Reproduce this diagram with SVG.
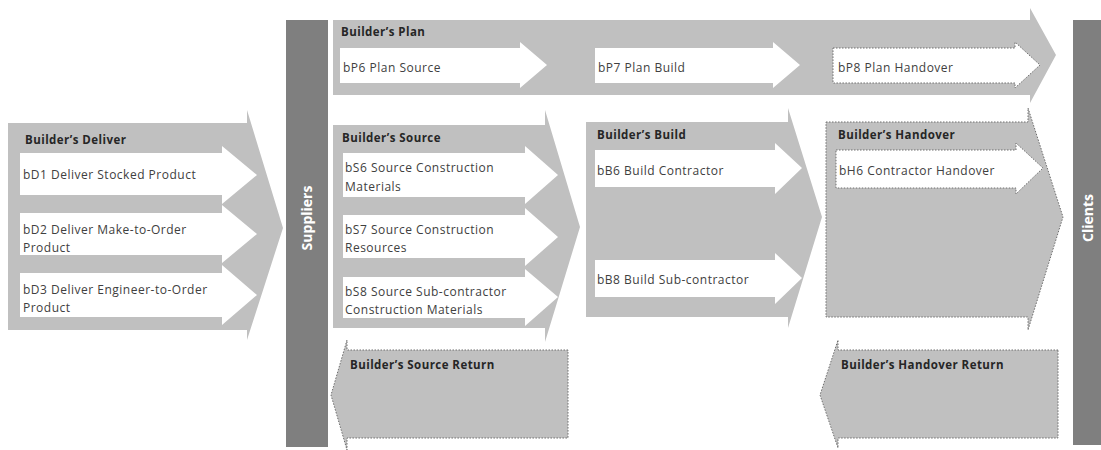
<svg xmlns="http://www.w3.org/2000/svg" width="1101" height="450" viewBox="0 0 1101 450">
  <style>
    .big { fill: #c0c0c0; }
    .dotted { stroke: #6e6e6e; stroke-width: 1; stroke-dasharray: 1.5 1.5; }
    .item { fill: #ffffff; }
    .bar { fill: #7f7f7f; }
    .title { font-family: "Open Sans", "Liberation Sans", sans-serif; font-size: 11.5px; font-weight: bold; letter-spacing: 0.45px; fill: #262626; }
    .label { font-family: "Open Sans", "Liberation Sans", sans-serif; font-size: 12px; letter-spacing: 0.5px; fill: #404040; }
    .side { font-family: "Open Sans", "Liberation Sans", sans-serif; font-size: 14px; font-weight: bold; fill: #ffffff; text-anchor: middle; }
  </style>
  <rect width="1101" height="450" fill="#ffffff"/>

  <!-- partner bars -->
  <g id="suppliers">
    <rect class="bar" x="286" y="20" width="42" height="427"/>
    <text class="side" transform="translate(312,218) rotate(-90)">Suppliers</text>
  </g>
  <g id="clients">
    <rect class="bar" x="1073" y="20" width="28" height="425"/>
    <text class="side" transform="translate(1093,218) rotate(-90)">Clients</text>
  </g>

  <!-- Deliver -->
  <g id="deliver">
    <polygon class="big" points="8,123 247,123 247,110 283,228 247,340 247,330 8,330"/>
    <text class="title" x="25" y="144">Builder’s Deliver</text>
    <g id="bD1">
      <polygon class="item" points="20,153 222,153 222,146 257,175 222,204 222,195 20,195"/>
      <text class="label" x="23" y="179">bD1 Deliver Stocked Product</text>
    </g>
    <g id="bD2">
      <polygon class="item" points="20,213 222,213 222,205 257,234 222,263 222,255 20,255"/>
      <text class="label" x="23" y="234">bD2 Deliver Make-to-Order</text>
      <text class="label" x="23" y="252">Product</text>
    </g>
    <g id="bD3">
      <polygon class="item" points="20,273 222,273 222,265 257,295 222,325 222,317 20,317"/>
      <text class="label" x="23" y="294">bD3 Deliver Engineer-to-Order</text>
      <text class="label" x="23" y="312">Product</text>
    </g>
  </g>

  <!-- Plan -->
  <g id="plan">
    <polygon class="big" points="333,20 1030,20 1030,8 1056,55 1030,103 1030,95 333,95"/>
    <text class="title" x="341" y="36">Builder’s Plan</text>
    <g id="bP6">
      <polygon class="item" points="340,48 520,48 520,42 547,65 520,88 520,83 340,83"/>
      <text class="label" x="343" y="72">bP6 Plan Source</text>
    </g>
    <g id="bP7">
      <polygon class="item" points="595,48 773,48 773,42 800,65 773,88 773,83 595,83"/>
      <text class="label" x="598" y="72">bP7 Plan Build</text>
    </g>
    <g id="bP8">
      <polygon class="item dotted" points="833,48 1015,48 1015,42 1040,65 1015,88 1015,83 833,83"/>
      <text class="label" x="838" y="72">bP8 Plan Handover</text>
    </g>
  </g>

  <!-- Source -->
  <g id="source">
    <polygon class="big" points="333,125 545,125 545,110 580,227 545,342 545,328 333,328"/>
    <text class="title" x="342" y="142">Builder’s Source</text>
    <g id="bS6">
      <polygon class="item" points="343,153 525,153 525,146 558,175 525,204 525,197 343,197"/>
      <text class="label" x="345" y="172">bS6 Source Construction</text>
      <text class="label" x="345" y="191">Materials</text>
    </g>
    <g id="bS7">
      <polygon class="item" points="343,215 525,215 525,208 558,237 525,266 525,258 343,258"/>
      <text class="label" x="345" y="234">bS7 Source Construction</text>
      <text class="label" x="345" y="252">Resources</text>
    </g>
    <g id="bS8">
      <polygon class="item" points="343,277 525,277 525,269 558,297 525,326 525,318 343,318"/>
      <text class="label" x="345" y="296">bS8 Source Sub-contractor</text>
      <text class="label" x="345" y="314">Construction  Materials</text>
    </g>
  </g>

  <!-- Build -->
  <g id="build">
    <polygon class="big" points="586,122 788,122 788,108 822,217 788,328 788,317 586,317"/>
    <text class="title" x="597" y="139">Builder’s Build</text>
    <g id="bB6">
      <polygon class="item" points="595,150 775,150 775,143 802,168 775,194 775,187 595,187"/>
      <text class="label" x="597" y="175">bB6 Build  Contractor</text>
    </g>
    <g id="bB8">
      <polygon class="item" points="595,260 775,260 775,253 802,278 775,304 775,297 595,297"/>
      <text class="label" x="597" y="284">bB8 Build  Sub-contractor</text>
    </g>
  </g>

  <!-- Handover -->
  <g id="handover">
    <polygon class="big dotted" points="826,122 1028,122 1028,108 1063,217 1028,330 1028,317 826,317"/>
    <text class="title" x="838" y="139">Builder’s Handover</text>
    <g id="bH6">
      <polygon class="item dotted" points="836,150 1016,150 1016,143 1043,168 1016,194 1016,188 836,188"/>
      <text class="label" x="839" y="175">bH6 Contractor Handover</text>
    </g>
  </g>

  <!-- Returns -->
  <g id="source-return">
    <polygon class="big dotted" points="568,350 347,350 347,340 331,395 347,450 347,438 568,438"/>
    <text class="title" x="350" y="369">Builder’s Source Return</text>
  </g>
  <g id="handover-return">
    <polygon class="big dotted" points="1058,350 838,350 838,340 820,395 838,448 838,438 1058,438"/>
    <text class="title" x="841" y="369">Builder’s Handover Return</text>
  </g>

  <!-- no separate connectors: the flow is carried by the arrow shapes -->
  <g id="connectors"/>
</svg>
